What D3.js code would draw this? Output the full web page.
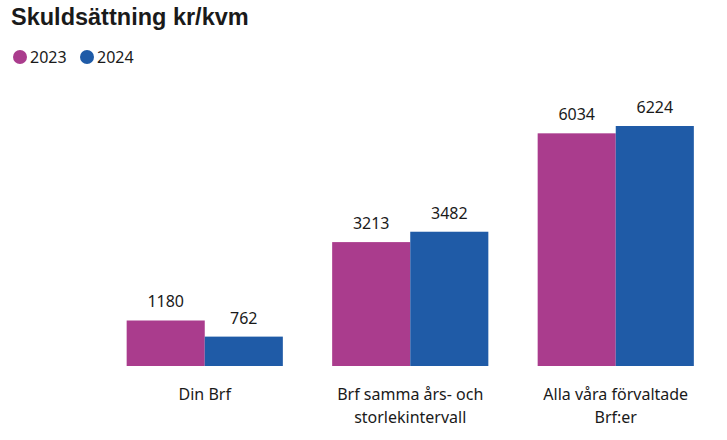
<!DOCTYPE html>
<html>
<head>
<meta charset="utf-8">
<script src="https://cdn.jsdelivr.net/npm/d3@7"></script>
<style>
  body { margin: 0; background: #fff; }
  text { font-family: "Noto Sans", "Open Sans", sans-serif; fill: #1a1a1a; }
</style>
</head>
<body>
<div id="chart-area"></div>
<script>
// Data
var categories = [["Din Brf"], ["Brf samma års- och", "storlekintervall"], ["Alla våra förvaltade", "Brf:er"]];
var years = ["2023", "2024"];
var values2023 = [1180, 3213, 6034];
var values2024 = [762, 3482, 6224];

var colors = {"2023": "#AA3C8D", "2024": "#1F5BA7"};

var width = 727, height = 440;

var svg = d3.select("#chart-area")
	.append("svg")
	.attr("width", width)
	.attr("height", height);

// Title
svg.append("text")
	.attr("x", 11)
	.attr("y", 25)
	.style("font-family", "'Liberation Sans', Arial, sans-serif")
	.style("font-weight", "bold")
	.style("font-size", "23.5px")
	.text("Skuldsättning kr/kvm");

// Legend
var legendX = [20, 87];
years.forEach(function(y, i) {
	svg.append("circle")
		.attr("cx", legendX[i])
		.attr("cy", 57)
		.attr("r", 7)
		.attr("fill", colors[y]);
	svg.append("text")
		.attr("x", legendX[i] + 10)
		.attr("y", 63)
		.style("font-size", "16px")
		.text(y);
});

var data = categories.map(function(c, i) {
	return {cat: c, key: i, vals: [values2023[i], values2024[i]]};
});

/** Scales */
var x0 = d3.scaleBand()
	.domain(data.map(function(d) { return d.key; }))
	.range([102, 718.5])
	.paddingInner(0.24)
	.paddingOuter(0.12);

var x1 = d3.scaleBand()
	.domain(years)
	.range([0, x0.bandwidth()]);

var y = d3.scaleLinear()
	.domain([0, d3.max(values2024.concat(values2023))])
	.range([366, 126]);

var groups = svg.selectAll("g.group")
	.data(data)
	.enter()
	.append("g")
	.attr("class", "group")
	.attr("transform", function(d) { return "translate(" + x0(d.key) + ",0)"; });

groups.selectAll("rect")
	.data(function(d) { return d.vals.map(function(v, i) { return {year: years[i], v: v}; }); })
	.enter()
	.append("rect")
	.attr("x", function(d) { return x1(d.year); })
	.attr("width", x1.bandwidth())
	.attr("y", function(d) { return y(d.v); })
	.attr("height", function(d) { return y(0) - y(d.v); })
	.attr("fill", function(d) { return colors[d.year]; });

groups.selectAll("text.val")
	.data(function(d) { return d.vals.map(function(v, i) { return {year: years[i], v: v}; }); })
	.enter()
	.append("text")
	.attr("class", "val")
	.attr("x", function(d) { return x1(d.year) + x1.bandwidth() / 2; })
	.attr("y", function(d) { return y(d.v) - 13; })
	.attr("text-anchor", "middle")
	.style("font-size", "16px")
	.text(function(d) { return d.v; });

// Category labels
groups.each(function(d) {
	var t = d3.select(this).append("text")
		.attr("text-anchor", "middle")
		.attr("y", 400)
		.style("font-size", "16px");
	d.cat.forEach(function(line, i) {
		t.append("tspan")
			.attr("x", x0.bandwidth() / 2)
			.attr("dy", i === 0 ? 0 : 23)
			.text(line);
	});
});
</script>
</body>
</html>
